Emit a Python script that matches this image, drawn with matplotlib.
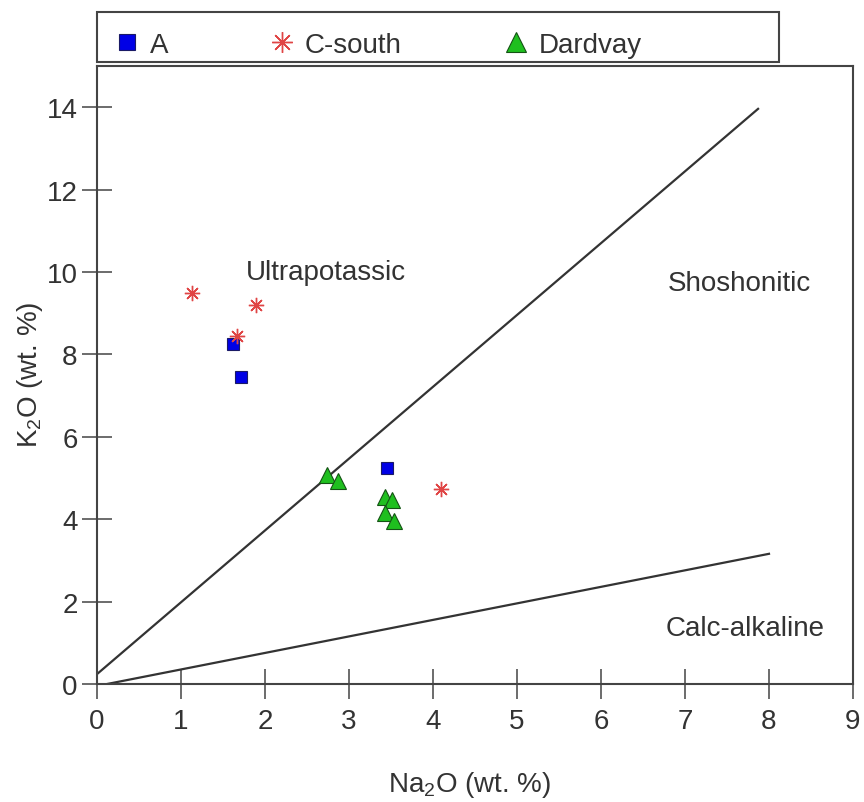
import matplotlib
matplotlib.use("Agg")
import matplotlib.pyplot as plt
from matplotlib.patches import Rectangle

plt.rcParams["font.family"] = ["Liberation Sans", "DejaVu Sans"]
plt.rcParams["mathtext.fontset"] = "custom"
plt.rcParams["mathtext.rm"] = "Liberation Sans"
plt.rcParams["mathtext.it"] = "Liberation Sans:italic"

# sample data (Na2O, K2O wt. %)
a_na = [1.62, 1.71, 3.45]
a_k = [8.25, 7.45, 5.24]

cs_na = [1.13, 1.89, 1.67, 4.10]
cs_k = [9.49, 9.20, 8.45, 4.73]

dv_na = [2.74, 2.87, 3.43, 3.51, 3.43, 3.54]
dv_k = [5.07, 4.93, 4.54, 4.47, 4.15, 3.96]

# classification boundaries
upper_x = [0.0, 7.87]
upper_y = [0.24, 13.96]
lower_x = [0.12, 8.0]
lower_y = [0.0, 3.16]

fields = ["Ultrapotassic", "Shoshonitic", "Calc-alkaline"]
field_x = [2.73, 7.65, 7.71]
field_y = [10.0, 9.73, 1.36]

W, H = 864, 803
fig = plt.figure(figsize=(W / 100, H / 100), dpi=100)
ax = fig.add_axes([97 / W, 1 - 685 / H, (853 - 97) / W, (685 - 67) / H])

txt = "#333333"
edge = "#444444"

ax.plot(upper_x, upper_y, color="#333333", lw=1.6)
ax.plot(lower_x, lower_y, color="#333333", lw=1.6)

ax.plot(a_na, a_k, ls="none", marker="s", ms=8.8, mfc="#0000e6",
        mec="#1a1a66", mew=0.8, label="A")
ax.plot(cs_na, cs_k, ls="none", marker=(8, 2, 0), ms=11, color="#e04545",
        mew=1.0, label="C-south")
ax.plot(dv_na, dv_k, ls="none", marker="^", ms=11, mfc="#1fbf1f",
        mec="#145214", mew=0.8, label="Dardvay")

for name, fx, fy in zip(fields, field_x, field_y):
    ax.text(fx, fy, name, ha="center", va="center", fontsize=20, color=txt)

ax.set_xlim(0, 9)
ax.set_ylim(0, 15)
ax.set_xticks(range(0, 10))
ax.set_yticks(range(0, 15, 2))
ax.tick_params(direction="inout", length=22, width=1.1, color=edge,
               labelsize=20, labelcolor=txt)
ax.tick_params(axis="x", pad=6)
ax.tick_params(axis="y", pad=3)

for sp in ax.spines.values():
    sp.set_color(edge)
    sp.set_linewidth(1.5)

ax.set_xlabel(r"Na$_2$O (wt. %)", fontsize=20, color=txt)
ax.xaxis.set_label_coords(0.493, -0.1375)
ax.set_ylabel(r"K$_2$O (wt. %)", fontsize=20, color=txt)
ax.yaxis.set_label_coords(-0.069, 0.502)

# legend strip above the plot
fig.add_artist(Rectangle((97 / W, 1 - 63 / H), (779 - 97) / W, 50 / H,
                         transform=fig.transFigure, fill=False,
                         edgecolor=edge, lw=1.5))
fig.legend(loc="center left", bbox_to_anchor=(113 / W, 1 - 46 / H),
           ncol=3, frameon=False, fontsize=20, labelcolor=txt,
           handlelength=1.0, handletextpad=0.32, columnspacing=3.6,
           borderpad=0, borderaxespad=0, markerscale=1.35, numpoints=1)

fig.savefig("out.png", dpi=100)
